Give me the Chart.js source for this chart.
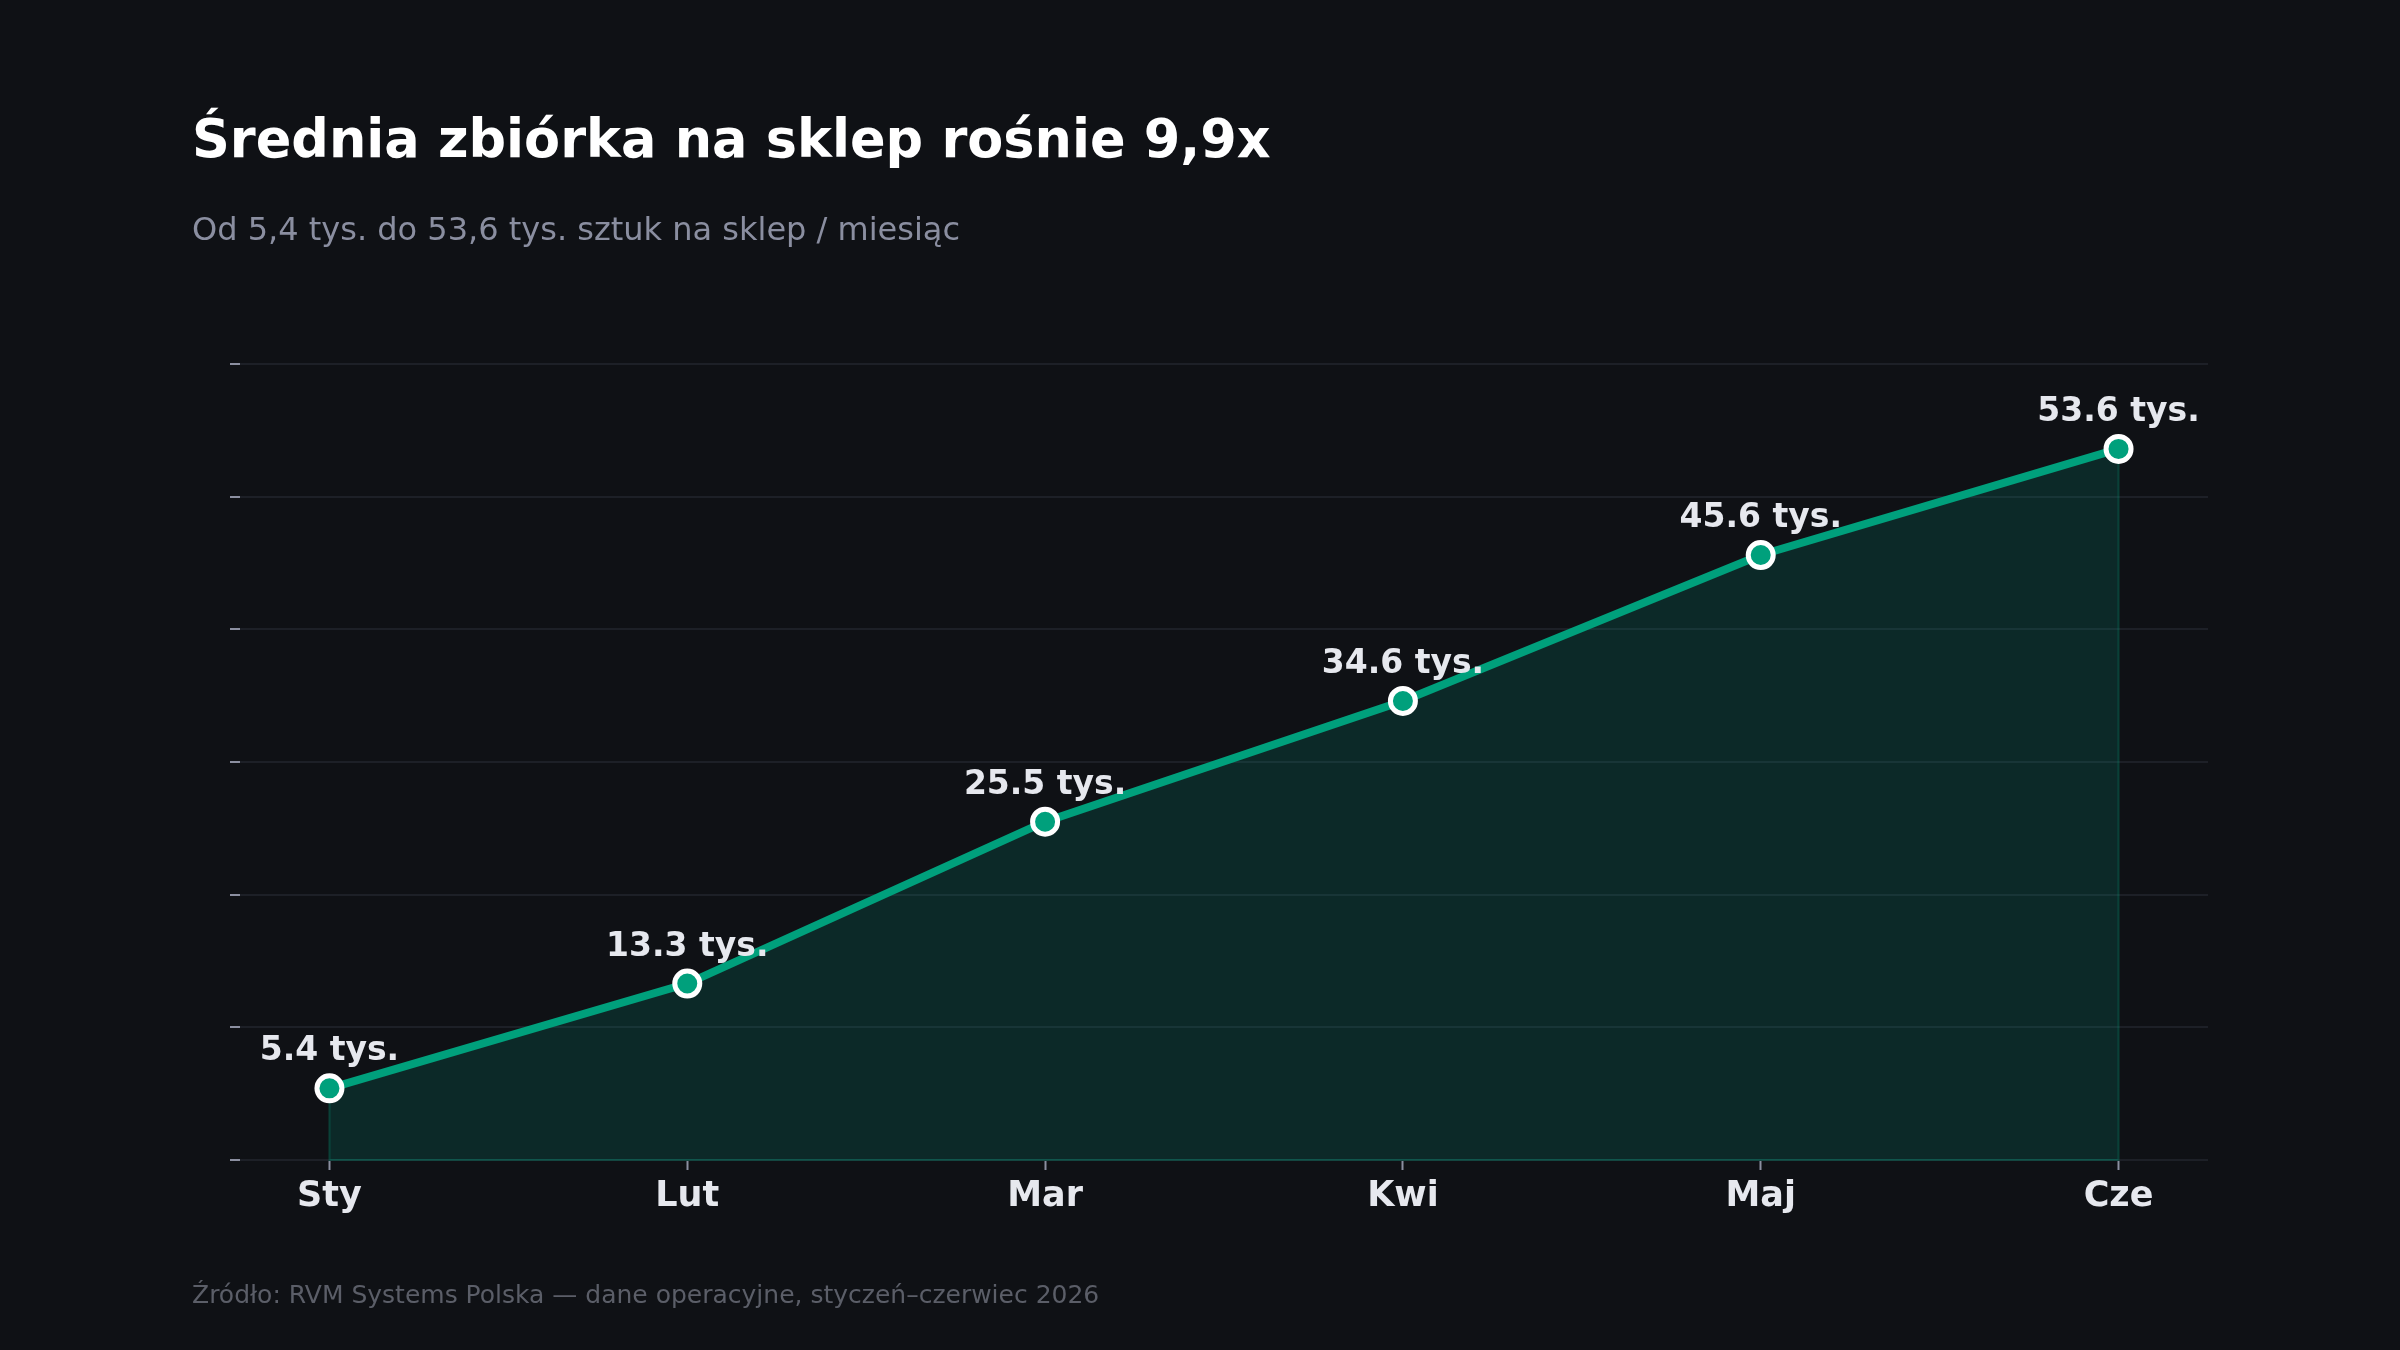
<!DOCTYPE html>
<html>
<head>
<meta charset="utf-8">
<script src="https://cdn.jsdelivr.net/npm/chart.js@4"></script>
<style>
  body { margin: 0; background: #0f1115; }
  #wrap { position: relative; width: 2400px; height: 1350px; background: #0f1115; font-family: "DejaVu Sans", sans-serif; }
  #chart { position: absolute; left: 0; top: 0; }
  .txt { position: absolute; left: 192px; line-height: 1; white-space: nowrap; }
  #title { top: 113px; font-size: 52.5px; font-weight: bold; color: #ffffff; }
  #subtitle { top: 213px; font-size: 32px; color: #8a8ea0; }
  #source { top: 1282px; font-size: 25px; color: #5b5e68; }
</style>
</head>
<body>
<div id="wrap">
  <canvas id="chart" width="2400" height="1350"></canvas>
  <div class="txt" id="title">Średnia zbiórka na sklep rośnie 9,9x</div>
  <div class="txt" id="subtitle">Od 5,4 tys. do 53,6 tys. sztuk na sklep / miesiąc</div>
  <div class="txt" id="source">Źródło: RVM Systems Polska — dane operacyjne, styczeń–czerwiec 2026</div>
</div>
<script>
// data
const months = ['Sty', 'Lut', 'Mar', 'Kwi', 'Maj', 'Cze'];
const perStore = [5.4, 13.3, 25.5, 34.6, 45.6, 53.6]; // tys. sztuk
const yTicks = [0, 10, 20, 30, 40, 50, 60];

const teal = '#00a07c';

// thin edge around the filled area (sides + bottom)
const fillEdge = {
    id: 'fillEdge',
    beforeDatasetsDraw(chart) {
        const ctx = chart.ctx;
        const pts = chart.getDatasetMeta(0).data;
        const base = chart.scales.y.getPixelForValue(0);
        const first = pts[0], last = pts[pts.length - 1];
        ctx.save();
        ctx.strokeStyle = 'rgba(0, 160, 124, 0.3)';
        ctx.lineWidth = 2;
        ctx.beginPath();
        ctx.moveTo(first.x, first.y);
        ctx.lineTo(first.x, base);
        ctx.lineTo(last.x, base);
        ctx.lineTo(last.x, last.y);
        ctx.stroke();
        ctx.restore();
    }
};

// value labels above the points
const pointLabels = {
    id: 'pointLabels',
    afterDatasetsDraw(chart) {
        const ctx = chart.ctx;
        const meta = chart.getDatasetMeta(0);
        ctx.save();
        ctx.font = 'bold 33px "DejaVu Sans"';
        ctx.fillStyle = '#e6e8ee';
        ctx.textAlign = 'center';
        ctx.textBaseline = 'alphabetic';
        meta.data.forEach((pt, i) => {
            ctx.fillText(perStore[i].toFixed(1) + ' tys.', pt.x, pt.y - 28);
        });
        ctx.restore();
    }
};

const data = {
    datasets: [{
        label: '',
        data: perStore.map((v, i) => ({ x: i, y: v })),
        borderColor: teal,
        borderWidth: 8,
        backgroundColor: 'rgba(0, 170, 140, 0.16)',
        fill: 'origin',
        tension: 0,
        pointRadius: 12.5,
        pointBorderWidth: 5,
        pointBackgroundColor: teal,
        pointBorderColor: '#ffffff',
        pointHoverRadius: 12.5,
    }]
};

const config = {
    type: 'line',
    data: data,
    options: {
        responsive: false,
        animation: false,
        layout: {
            padding: { left: 230, right: 192, top: 364, bottom: 110 }
        },
        scales: {
            x: {
                type: 'linear',
                min: -0.25,
                max: 5.25,
                border: { display: false },
                grid: {
                    drawOnChartArea: false,
                    drawTicks: true,
                    tickLength: 10,
                    tickColor: '#8b8fa0',
                    tickWidth: 2,
                },
                ticks: {
                    stepSize: 1,
                    includeBounds: false,
                    padding: 6,
                    color: '#e6e8ee',
                    font: { family: 'DejaVu Sans', size: 35, weight: 'bold' },
                    callback: (v) => months[v],
                },
                afterFit: (scale) => { scale.height = 80; },
            },
            y: {
                min: 0,
                max: 60,
                border: { display: false },
                afterBuildTicks: (scale) => { scale.ticks = yTicks.map(v => ({ value: v })); },
                grid: {
                    color: '#1d2027',
                    lineWidth: 2,
                    tickLength: 10,
                    tickColor: '#8b8fa0',
                    tickWidth: 2,
                },
                ticks: { display: false },
                afterFit: (scale) => { scale.width = 10; },
            }
        },
        plugins: {
            legend: { display: false },
            tooltip: { enabled: false },
        }
    },
    plugins: [fillEdge, pointLabels]
};

let chart = new Chart(
    document.getElementById('chart'),
    config
);
</script>
</body>
</html>
